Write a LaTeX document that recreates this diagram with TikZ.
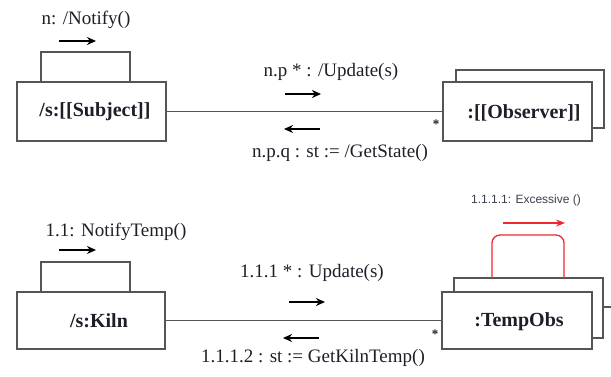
\documentclass[tikz,border=0pt]{standalone}
\usepackage{fontspec}
\setmainfont{Liberation Serif}
\newfontfamily\labelsans{Liberation Sans}
\usetikzlibrary{arrows.meta}
\definecolor{ink}{HTML}{1E1E28}
\definecolor{edge}{HTML}{555555}
\definecolor{loopred}{HTML}{F0282D}
\definecolor{sanslabel}{HTML}{3A3F4A}
\begin{document}
\begin{tikzpicture}[x=1pt,y=-1pt,
  objbox/.style={draw=edge,line width=1.5pt,fill=white,inner sep=0pt,rectangle},
  msg/.style={font=\fontsize{19}{22}\selectfont,text=ink,inner sep=0pt},
  objname/.style={font=\fontsize{20}{23}\selectfont\bfseries,text=ink,inner sep=0pt},
  link/.style={draw=edge,line width=1.5pt},
  dirarrow/.style={draw=black,line width=1.6pt,-{Stealth[length=9pt,width=8pt]}},
  multmark/.style={font=\fontsize{13}{14}\selectfont\bfseries,text=ink,inner sep=0pt}]
\useasboundingbox (0,0) rectangle (611,377);

% ---- upper collaboration: Subject / Observer ----
\node[objbox,minimum width=89pt,minimum height=30pt] (subjtab) at (85.5,67) {};
\node[objbox,minimum width=149pt,minimum height=59pt] (subj) at (91.5,111.5) {};
\node[objname] (subjname) at (95,112) {/s:[[Subject]]};
\node[objbox,minimum width=148pt,minimum height=58pt] (obsback) at (530,99) {};
\node[objbox,minimum width=149pt,minimum height=59pt] (obs) at (517.5,111.5) {};
\node[objname] (obsname) at (524,113) {:[[Observer]]};
\draw[link] (subj.east) -- (obs.west);

\node[msg] (notify) at (86,20) {n: /Notify()};
\coordinate (na1) at (59,41); \coordinate (na2) at (96,41);
\draw[dirarrow] (na1) -- (na2);

\node[msg] (upd) at (331,72) {n.p * : /Update(s)};
\coordinate (ua1) at (285,94); \coordinate (ua2) at (321,94);
\draw[dirarrow] (ua1) -- (ua2);
\coordinate (ga1) at (320,129); \coordinate (ga2) at (284,129);
\draw[dirarrow] (ga1) -- (ga2);
\node[msg] (getstate) at (340,153) {n.p.q : st := /GetState()};
\node[multmark] (star1) at (436,124) {*};

% ---- lower collaboration: Kiln / TempObs ----
\node[objbox,minimum width=89pt,minimum height=30pt] (kilntab) at (85.5,277) {};
\node[objbox,minimum width=148pt,minimum height=57pt] (kiln) at (91,320.5) {};
\node[objname] (kilnname) at (99,321) {/s:Kiln};
\coordinate (stub) at (611,307);
\node[objbox,minimum width=149pt,minimum height=60pt] (tempback) at (528.5,308) {};
\draw[link] (tempback.east |- stub) -- (stub);
\node[objbox,minimum width=150pt,minimum height=57pt] (temp) at (517,320.5) {};
\node[objname] (tempname) at (519,322) {:TempObs};
\draw[link] (kiln.east) -- (temp.west);

\node[msg] (notifytemp) at (116,232) {1.1: NotifyTemp()};
\coordinate (ka1) at (59,250); \coordinate (ka2) at (96,250);
\draw[dirarrow] (ka1) -- (ka2);

\node[msg] (upd2) at (312,273) {1.1.1 * : Update(s)};
\coordinate (ub1) at (289,302); \coordinate (ub2) at (325,302);
\draw[dirarrow] (ub1) -- (ub2);
\coordinate (gb1) at (319,338); \coordinate (gb2) at (283,338);
\draw[dirarrow] (gb1) -- (gb2);
\node[msg] (getkiln) at (313,358) {1.1.1.2 : st := GetKilnTemp()};
\node[multmark] (star2) at (435,334) {*};

% self-message loop on TempObs
\coordinate (loopa) at (492,278); \coordinate (loopb) at (564,278);
\draw[draw=loopred,line width=1.3pt,rounded corners=8pt]
  (loopa) -- (492,235) -- (564,235) -- (loopb);
\coordinate (ra1) at (503,223); \coordinate (ra2) at (565,223);
\draw[draw=loopred,line width=1.3pt,-{Stealth[length=9pt,width=7pt]}] (ra1) -- (ra2);
\node[font=\labelsans\fontsize{12}{14}\selectfont,text=sanslabel,inner sep=0pt] (excess) at (526,200) {1.1.1.1: Excessive ()};
\end{tikzpicture}
\end{document}
